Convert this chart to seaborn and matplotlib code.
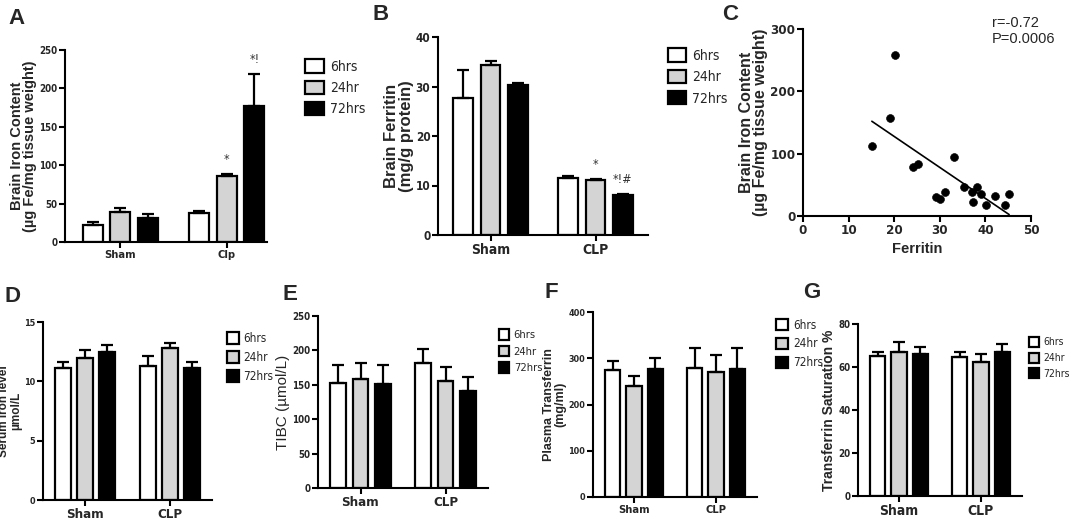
import numpy as np
import pandas as pd
import matplotlib
matplotlib.use('Agg')
import matplotlib.pyplot as plt
import seaborn as sns
from matplotlib.patches import Patch
from matplotlib import font_manager
from matplotlib.font_manager import FontProperties

sns.set_style('ticks')
plt.rcParams['font.family'] = ['Liberation Sans', 'DejaVu Sans']

# procura uma fonte estreita (estilo GraphPad) entre as instaladas
arquivos = [f.fname for f in font_manager.fontManager.ttflist]


def achar(chaves):
    for k in chaves:
        for a in arquivos:
            if a.endswith(k):
                return a
    return None


narrow_reg = achar(['LiberationSansNarrow-Regular.ttf', 'DejaVuSansCondensed.ttf',
                    'RobotoCondensed-Regular.ttf'])
narrow_bold = achar(['LiberationSansNarrow-Bold.ttf', 'DejaVuSansCondensed-Bold.ttf',
                     'RobotoCondensed-Bold.ttf'])
fator = 1.0 if narrow_reg else 0.8


def fonte(tam, negrito=False):
    arq = narrow_bold if negrito else narrow_reg
    if arq:
        return FontProperties(fname=arq, size=tam)
    return FontProperties(family='Liberation Sans', size=tam * fator,
                          weight='bold' if negrito else 'normal')


groups_a = ['Sham', 'Clp']
groups = ['Sham', 'CLP']
times = ['6hrs', '24hr', '72hrs']
colores = ['white', '#d4d4d4', 'black']

# valores (media) e erro superior, por tempo: [Sham, CLP]
iron_mean = [[22, 38], [39, 86], [31, 177]]
iron_err = [[4, 3], [5, 3], [5, 42]]
ferritin_mean = [[27.7, 11.5], [34.3, 11.2], [30.3, 8.0]]
ferritin_err = [[5.6, 0.5], [0.8, 0.2], [0.5, 0.3]]
serum_mean = [[11.1, 11.3], [12.0, 12.8], [12.5, 11.1]]
serum_err = [[0.5, 0.8], [0.6, 0.4], [0.6, 0.5]]
tibc_mean = [[152, 182], [158, 155], [151, 141]]
tibc_err = [[27, 20], [24, 21], [28, 21]]
transf_mean = [[275, 278], [240, 271], [277, 276]]
transf_err = [[20, 45], [22, 36], [24, 46]]
sat_mean = [[65, 64.5], [67, 62.5], [66, 67]]
sat_err = [[2, 2.5], [4.5, 3.5], [3.5, 3.5]]

# marcas de significancia: (tempo, grupo, texto)
iron_marks = [(1, 1, '*'), (2, 1, '*!')]
ferritin_marks = [(1, 1, '*'), (2, 1, '*!#')]

# correlacao ferritina x ferro
ferritin_x = [20.2, 19.1, 15.1, 33.1, 24.1, 25.2, 35.2, 37.1, 38.1, 39.1,
              37.2, 40.1, 42.1, 44.2, 45.2, 29.1, 30.1, 31.2]
iron_y = [258, 158, 113, 94, 79, 84, 47, 39, 46, 36,
          22, 18, 32, 18, 36, 31, 27, 38]

W, H = 1072, 523
fig = plt.figure(figsize=(W / 100, H / 100), dpi=100)


def px_axes(left, top, right, bottom):
    return fig.add_axes([left / W, 1 - bottom / H, (right - left) / W, (bottom - top) / H])


def estilo(ax, ysize=8, xsize=9.5):
    sns.despine(ax=ax)
    for s in ['left', 'bottom']:
        ax.spines[s].set_linewidth(1.5)
        ax.spines[s].set_color('black')
    ax.tick_params(width=1.5, length=4, color='black', pad=1.5)
    for lab in ax.get_yticklabels():
        lab.set_fontproperties(fonte(ysize, True))
    for lab in ax.get_xticklabels():
        lab.set_fontproperties(fonte(xsize, True))


def barras(ax, cats, means, errs, ylim, yticks, ylabel, ylsize, leg_pos,
           marks=None, xlim=(-0.5, 1.5), ylweight='bold', xlsize=9.5, legsize=8.5,
           ysize=7, handle=1.0):
    rows = []
    for t, m in zip(times, means):
        for g, v in zip(cats, m):
            rows.append({'grupo': g, 'tempo': t, 'valor': v})
    df = pd.DataFrame(rows)
    sns.barplot(data=df, x='grupo', y='valor', hue='tempo', palette=colores,
                edgecolor='black', linewidth=1.6, gap=0.28, width=0.78,
                errorbar=None, legend=False, ax=ax)
    for cont, e in zip(ax.containers, errs):
        xs = [p.get_x() + p.get_width() / 2 for p in cont]
        hs = [p.get_height() for p in cont]
        ax.errorbar(xs, hs, yerr=[np.zeros(len(e)), e], fmt='none', ecolor='black',
                    elinewidth=1.6, capsize=4, capthick=1.6, zorder=1)
    if marks:
        for t, g, txt in marks:
            p = ax.containers[t][g]
            top = p.get_height() + errs[t][g]
            ax.text(p.get_x() + p.get_width() / 2, top + (ylim[1] - ylim[0]) * 0.04, txt,
                    ha='center', va='bottom', color='#333333', fontproperties=fonte(9))
    ax.set_xlim(*xlim)
    ax.set_ylim(*ylim)
    ax.set_yticks(yticks)
    ax.set_xlabel('')
    ax.set_ylabel(ylabel, fontsize=ylsize, fontweight=ylweight, linespacing=0.95,
                  labelpad=1.5)
    estilo(ax, ysize=ysize, xsize=xlsize)
    handles = [Patch(facecolor=c, edgecolor='black', linewidth=1.6) for c in colores]
    ax.legend(handles, times, loc='upper left', bbox_to_anchor=leg_pos, frameon=False,
              prop=fonte(legsize), handlelength=handle, handleheight=1.1, labelspacing=0.5,
              handletextpad=0.4, borderaxespad=0)


# A
axA = px_axes(65, 50, 267, 242)
barras(axA, groups_a, iron_mean, iron_err, (0, 250), range(0, 251, 50),
       'Brain Iron Content\n(µg Fe/mg tissue weight)', 10.5, (1.16, 0.98),
       marks=iron_marks, xlim=(-0.52, 1.38), xlsize=8, legsize=10, handle=1.4)

# B
axB = px_axes(438, 37, 648, 235)
barras(axB, groups, ferritin_mean, ferritin_err, (0, 40), range(0, 41, 10),
       'Brain Ferritin\n(mg/g protein)', 12, (1.07, 0.97), marks=ferritin_marks,
       xlsize=10, legsize=10, ysize=8.5, handle=1.3)

# C
axC = px_axes(803, 29, 1031, 216)
sns.scatterplot(x=ferritin_x, y=iron_y, color='black', s=32, edgecolor='black', ax=axC)
coef = np.polyfit(ferritin_x, iron_y, 1)
xl = np.array([min(ferritin_x), max(ferritin_x)])
axC.plot(xl, np.polyval(coef, xl), color='black', lw=1.2)
axC.text(0.83, 1.07, 'r=-0.72\nP=0.0006', transform=axC.transAxes, ha='left', va='top',
         fontsize=10.5, linespacing=1.2)
axC.set_xlim(0, 50)
axC.set_ylim(0, 300)
axC.set_xticks(range(0, 51, 10))
axC.set_yticks([0, 100, 200, 300])
axC.set_xlabel('Ferritin', fontsize=10.5, fontweight='bold')
axC.set_ylabel('Brain Iron Content\n(µg Fe/mg tissue weight)', fontsize=11.5,
               fontweight='bold', linespacing=0.95, labelpad=1.5)
estilo(axC, ysize=9.5, xsize=9.5)

# D
axD = px_axes(43, 322, 212, 500)
barras(axD, groups, serum_mean, serum_err, (0, 15), range(0, 16, 5),
       'Serum Iron level\nµmol/L', 8.5, (1.06, 0.97), ysize=6.5)

# E
axE = px_axes(318, 316, 488, 488)
barras(axE, groups, tibc_mean, tibc_err, (0, 250), range(0, 251, 50),
       'TIBC (µmol/L)', 11, (1.04, 0.95), ylweight='normal', legsize=8, handle=0.9)

# F
axF = px_axes(593, 312, 757, 497)
barras(axF, groups, transf_mean, transf_err, (0, 400), range(0, 401, 100),
       'Plasma Transferrin\n(mg/ml)', 9, (1.09, 0.99), xlsize=8, ysize=6.5)

# G
axG = px_axes(858, 324, 1022, 496)
barras(axG, groups, sat_mean, sat_err, (0, 80), range(0, 81, 20),
       'Transferrin Saturation %', 10, (1.02, 0.95), xlsize=10, legsize=7.5, handle=0.9)

for letra, x, y in [('A', 8, 18), ('B', 373, 15), ('C', 722, 15), ('D', 5, 297),
                    ('E', 283, 295), ('F', 545, 292), ('G', 803, 293)]:
    fig.text(x / W, 1 - y / H, letra, fontsize=16, fontweight='bold', ha='left', va='center')

fig.savefig('out.png', dpi=100)
